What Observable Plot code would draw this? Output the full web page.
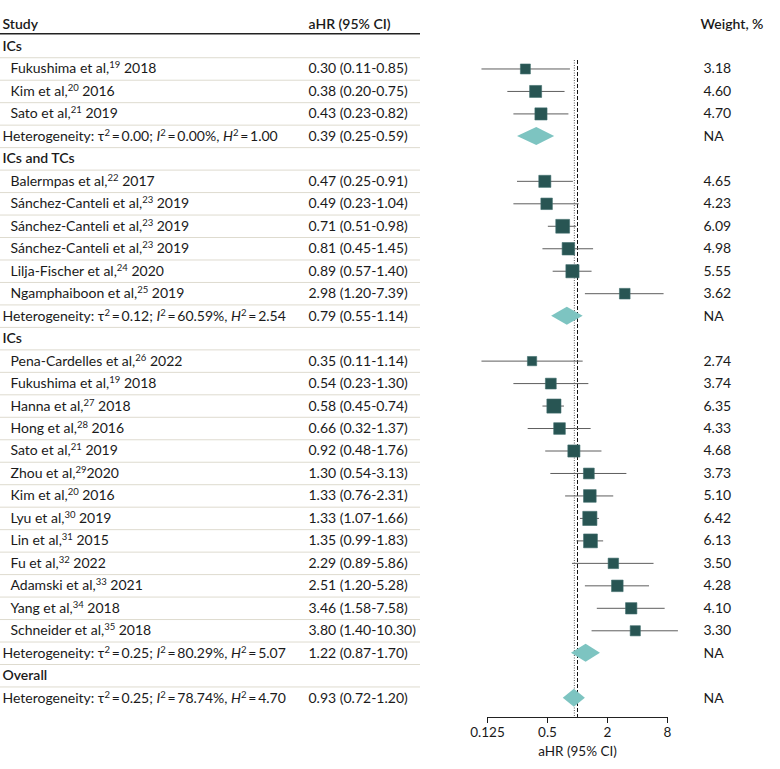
<!DOCTYPE html>
<html>
<head>
<meta charset="utf-8">
<script src="https://cdn.jsdelivr.net/npm/d3@7"></script>
<script src="https://cdn.jsdelivr.net/npm/@observablehq/plot@0.6"></script>
<style>
  html, body { margin: 0; padding: 0; background: #fff; }
  #chart svg { display: block; }
</style>
</head>
<body>
<div id="chart"></div>
<script>
// ---- data ----
const rowLabel = [
  "ICs",
  "Fukushima et al,^19^ 2018",
  "Kim et al,^20^ 2016",
  "Sato et al,^21^ 2019",
  "Heterogeneity: τ^2^\u2009=\u20090.00; _I_^2^\u2009=\u20090.00%, _H_^2^\u2009=\u20091.00",
  "ICs and TCs",
  "Balermpas et al,^22^ 2017",
  "Sánchez-Canteli et al,^23^ 2019",
  "Sánchez-Canteli et al,^23^ 2019",
  "Sánchez-Canteli et al,^23^ 2019",
  "Lilja-Fischer et al,^24^ 2020",
  "Ngamphaiboon et al,^25^ 2019",
  "Heterogeneity: τ^2^\u2009=\u20090.12; _I_^2^\u2009=\u200960.59%, _H_^2^\u2009=\u20092.54",
  "ICs",
  "Pena-Cardelles et al,^26^ 2022",
  "Fukushima et al,^19^ 2018",
  "Hanna et al,^27^ 2018",
  "Hong et al,^28^ 2016",
  "Sato et al,^21^ 2019",
  "Zhou et al,^29^2020",
  "Kim et al,^20^ 2016",
  "Lyu et al,^30^ 2019",
  "Lin et al,^31^ 2015",
  "Fu et al,^32^ 2022",
  "Adamski et al,^33^ 2021",
  "Yang et al,^34^ 2018",
  "Schneider et al,^35^ 2018",
  "Heterogeneity: τ^2^\u2009=\u20090.25; _I_^2^\u2009=\u200980.29%, _H_^2^\u2009=\u20095.07",
  "Overall",
  "Heterogeneity: τ^2^\u2009=\u20090.25; _I_^2^\u2009=\u200978.74%, _H_^2^\u2009=\u20094.70"
];
const rowKind = [
  "group", "study", "study", "study", "het",
  "group", "study", "study", "study", "study", "study", "study", "het",
  "group", "study", "study", "study", "study", "study", "study", "study",
  "study", "study", "study", "study", "study", "study", "het",
  "group", "het"
];
const hrEst = [null, 0.30, 0.38, 0.43, 0.39,
  null, 0.47, 0.49, 0.71, 0.81, 0.89, 2.98, 0.79,
  null, 0.35, 0.54, 0.58, 0.66, 0.92, 1.30, 1.33, 1.33, 1.35, 2.29, 2.51, 3.46, 3.80, 1.22,
  null, 0.93];
const hrLow = [null, 0.11, 0.20, 0.23, 0.25,
  null, 0.25, 0.23, 0.51, 0.45, 0.57, 1.20, 0.55,
  null, 0.11, 0.23, 0.45, 0.32, 0.48, 0.54, 0.76, 1.07, 0.99, 0.89, 1.20, 1.58, 1.40, 0.87,
  null, 0.72];
const hrHigh = [null, 0.85, 0.75, 0.82, 0.59,
  null, 0.91, 1.04, 0.98, 1.45, 1.40, 7.39, 1.14,
  null, 1.14, 1.30, 0.74, 1.37, 1.76, 3.13, 2.31, 1.66, 1.83, 5.86, 5.28, 7.58, 10.30, 1.70,
  null, 1.20];
const weightPct = [null, 3.18, 4.60, 4.70, null,
  null, 4.65, 4.23, 6.09, 4.98, 5.55, 3.62, null,
  null, 2.74, 3.74, 6.35, 4.33, 4.68, 3.73, 5.10, 6.42, 6.13, 3.50, 4.28, 4.10, 3.30, null,
  null, null];
const xTicks = [0.125, 0.5, 2, 8];
const headers = ["Study", "aHR (95% CI)", "Weight, %"];
const axisTitle = "aHR (95% CI)";

// ---- derived table ----
const rows = rowLabel.map((label, i) => ({
  i, label, kind: rowKind[i],
  est: hrEst[i], lo: hrLow[i], hi: hrHigh[i], w: weightPct[i]
}));
const studies = rows.filter(d => d.kind === "study");
const hets = rows.filter(d => d.kind === "het");
const groups = rows.filter(d => d.kind === "group");
const valued = rows.filter(d => d.est != null);
const fmtCI = d => `${d.est.toFixed(2)} (${d.lo.toFixed(2)}-${d.hi.toFixed(2)})`;
const overall = rows[rows.length - 1];
const diamondPts = hets.flatMap(d => [
  {row: d.i, y: d.i - 0.4, x1: d.est, x2: d.est},
  {row: d.i, y: d.i, x1: d.lo, x2: d.hi},
  {row: d.i, y: d.i + 0.4, x1: d.est, x2: d.est}
]);
const separators = d3.range(0, rows.length - 1).map(i => i + 0.5);

const W = 780, H = 769, mL = 487, mR = 113;
const font = "Lato, 'Open Sans', sans-serif";

const plot = Plot.plot({
  width: W,
  height: H,
  marginLeft: mL,
  marginRight: mR,
  marginTop: 60,
  marginBottom: 52,
  style: {fontFamily: font, fontSize: "14px", color: "#1a1a1a", background: "#fff"},
  x: {type: "log", base: 2, domain: [0.125, 8]},
  y: {domain: [0, 29], range: [46, 697.7], axis: null},
  r: {type: "sqrt", domain: [0, 6.42], range: [0, 8]},
  marks: [
    // row separators
    Plot.ruleY(separators, {y: d => d, stroke: "#dedbcf", strokeWidth: 1, insetLeft: -mL, insetRight: W - mR - 420 - mL + mL}),
    // header rule
    Plot.ruleY([-0.5], {y: d => d, dy: -1.5, stroke: "#222", strokeWidth: 1.5, insetLeft: -mL, insetRight: W - mR - 420}),
    // axis line
    Plot.frame({anchor: "bottom", stroke: "#222"}),
    Plot.axisX({ticks: xTicks, tickFormat: d => String(d), tickSize: 6, tickPadding: 4, fontSize: 13.5,
      label: axisTitle, labelAnchor: "center", labelOffset: 38, labelArrow: "none"}),
    // null line and overall estimate line
    Plot.ruleX([1], {stroke: "#111", strokeDasharray: "4,2", strokeWidth: 1}),
    Plot.ruleX([overall], {x: "est", stroke: "#555", strokeDasharray: "1,1.5", strokeWidth: 1}),
    // CI lines
    Plot.ruleY(studies, {y: "i", x1: "lo", x2: "hi", stroke: "#5e5e5e", strokeWidth: 1}),
    // squares
    Plot.dot(studies, {x: "est", y: "i", r: "w", symbol: "square", fill: "#285553", stroke: "#3f6d6b", strokeWidth: 0.6}),
    // diamonds
    Plot.areaX(diamondPts, {y: "y", x1: "x1", x2: "x2", z: "row", fill: "#7dc4c1", curve: "linear"}),
    // header texts
    Plot.text([headers[0]], {frameAnchor: "left", y: () => -1, dx: 2 - mL, textAnchor: "start", fontWeight: 600}),
    Plot.text([headers[1]], {frameAnchor: "left", y: () => -1, dx: 308 - mL, textAnchor: "start", fontWeight: 600}),
    Plot.text([headers[2]], {frameAnchor: "right", y: () => -1, dx: 700 - (W - mR), textAnchor: "start", fontWeight: 600}),
    // group labels
    Plot.text(groups, {frameAnchor: "left", y: "i", text: "label", dx: 2 - mL, textAnchor: "start", fontWeight: 600}),
    // study labels
    Plot.text(studies, {frameAnchor: "left", y: "i", text: "label", dx: 10 - mL, textAnchor: "start"}),
    // heterogeneity labels
    Plot.text(hets, {frameAnchor: "left", y: "i", text: "label", dx: 2 - mL, textAnchor: "start"}),
    // aHR column
    Plot.text(valued, {frameAnchor: "left", y: "i", text: fmtCI, dx: 308 - mL, textAnchor: "start"}),
    // weight column
    Plot.text(valued, {frameAnchor: "right", y: "i", text: d => d.w == null ? "NA" : d.w.toFixed(2), dx: 703 - (W - mR), textAnchor: "start"})
  ]
});

// rich text: ^sup^ and _italic_
const NS = "http://www.w3.org/2000/svg";
plot.querySelectorAll("text").forEach(t => {
  const s = t.textContent;
  if (!/[\^_]/.test(s) || t.children.length) return;
  t.textContent = "";
  const parts = s.split(/(\^[^^]+\^|_[^_]+_)/).filter(p => p);
  let shifted = false;
  for (const p of parts) {
    const ts = document.createElementNS(NS, "tspan");
    if (p[0] === "^") {
      ts.textContent = p.slice(1, -1);
      ts.setAttribute("font-size", "9.5");
      ts.setAttribute("dy", "-5");
      shifted = true;
    } else {
      if (p[0] === "_") {
        ts.textContent = p.slice(1, -1);
        ts.setAttribute("font-style", "italic");
      } else {
        ts.textContent = p;
      }
      if (shifted) { ts.setAttribute("dy", "5"); shifted = false; }
    }
    t.appendChild(ts);
  }
});

document.getElementById("chart").appendChild(plot);
</script>
</body>
</html>
